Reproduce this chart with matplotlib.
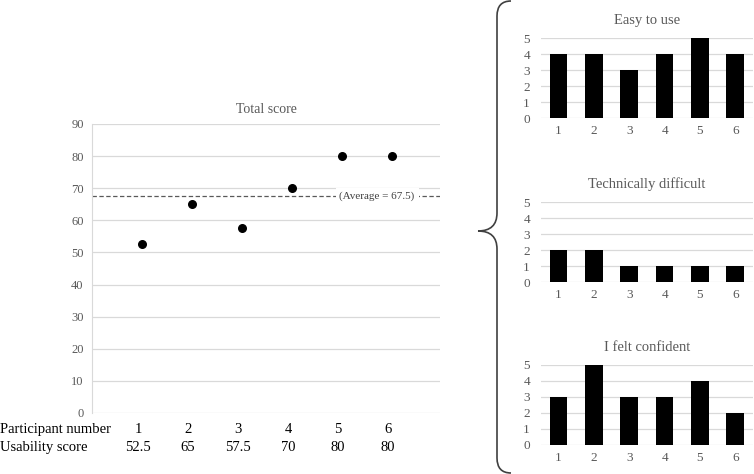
import matplotlib.pyplot as plt
import numpy as np
from matplotlib.path import Path
from matplotlib.patches import PathPatch

plt.rcParams['font.family'] = ['Liberation Serif', 'DejaVu Serif']

# data
participants = [1, 2, 3, 4, 5, 6]
usability = [52.5, 65, 57.5, 70, 80, 80]
usability_labels = ['52.5', '65', '57.5', '70', '80', '80']
average = 67.5
easy_to_use = [4, 4, 3, 4, 5, 4]
technically_difficult = [2, 2, 1, 1, 1, 1]
felt_confident = [3, 5, 3, 3, 4, 2]

GRID = '#d9d9d9'
TXT = '#595959'

fig = plt.figure(figsize=(7.54, 4.74), dpi=100)

# left scatter chart
ax = fig.add_axes([0.122, 0.1287, 0.4615, 0.6097])
ax.scatter(participants, usability, s=30, color='black', zorder=3)
ax.axhline(average, color='#595959', lw=0.9, ls=(0, (3.5, 2)), zorder=2)
ax.text(4.95, average, '(Average = 67.5)', fontsize=8, color='#404040',
        ha='left', va='center', zorder=4,
        bbox=dict(boxstyle='square,pad=0.35', fc='white', ec='none'))
ax.set_xlim(0, 6.96)
ax.set_ylim(0, 90)
ax.set_yticks(np.arange(0, 91, 10))
ax.yaxis.grid(True, color=GRID, lw=0.9)
ax.set_axisbelow(True)
ax.set_xticks([])
for s in ['top', 'right', 'bottom']:
    ax.spines[s].set_visible(False)
ax.spines['left'].set_color(GRID)
ax.tick_params(axis='y', length=0, labelsize=9, labelcolor=TXT, pad=6)
ax.set_title('Total score', fontsize=10, color=TXT, pad=8)

# table under the chart
ax.text(-1.84, -5.0, 'Participant number', fontsize=10.5, ha='left', va='center', clip_on=False)
ax.text(-1.84, -10.6, 'Usability score', fontsize=10.5, ha='left', va='center', clip_on=False)
for p, lab in zip(participants, usability_labels):
    ax.text(p - 0.08, -5.0, str(p), fontsize=10.5, ha='center', va='center', clip_on=False)
    ax.text(p - 0.08, -10.6, lab, fontsize=10.5, ha='center', va='center', clip_on=False)

# small bar charts
small = [
    ('Easy to use', easy_to_use, 0.751),
    ('Technically difficult', technically_difficult, 0.405),
    ('I felt confident', felt_confident, 0.0612),
]
for title, vals, bottom in small:
    a = fig.add_axes([0.7175, bottom, 0.281, 0.1688])
    a.bar(participants, vals, width=0.5, color='black', zorder=3)
    a.set_xlim(0.5, 6.5)
    a.set_ylim(0, 5)
    a.set_yticks(range(6))
    a.set_xticks(participants)
    a.yaxis.grid(True, color=GRID, lw=0.9)
    a.set_axisbelow(True)
    for s in a.spines.values():
        s.set_visible(False)
    a.tick_params(length=0, labelsize=9.5, labelcolor=TXT)
    a.tick_params(axis='y', pad=8)
    a.tick_params(axis='x', pad=5)
    a.set_title(title, fontsize=10.5, color=TXT, pad=10)

# curly brace
over = fig.add_axes([0, 0, 1, 1], zorder=-1)
over.set_xlim(0, 754)
over.set_ylim(474, 0)
over.axis('off')
verts = [(511, 1), (497, 1), (497, 16), (497, 213), (497, 231), (478, 231),
         (497, 231), (497, 249), (497, 458), (497, 473), (511, 473)]
codes = [Path.MOVETO, Path.CURVE3, Path.CURVE3, Path.LINETO, Path.CURVE3, Path.CURVE3,
         Path.CURVE3, Path.CURVE3, Path.LINETO, Path.CURVE3, Path.CURVE3]
over.add_patch(PathPatch(Path(verts, codes), fc='none', ec='#404040', lw=1.2))

fig.savefig('out.png', dpi=100)
